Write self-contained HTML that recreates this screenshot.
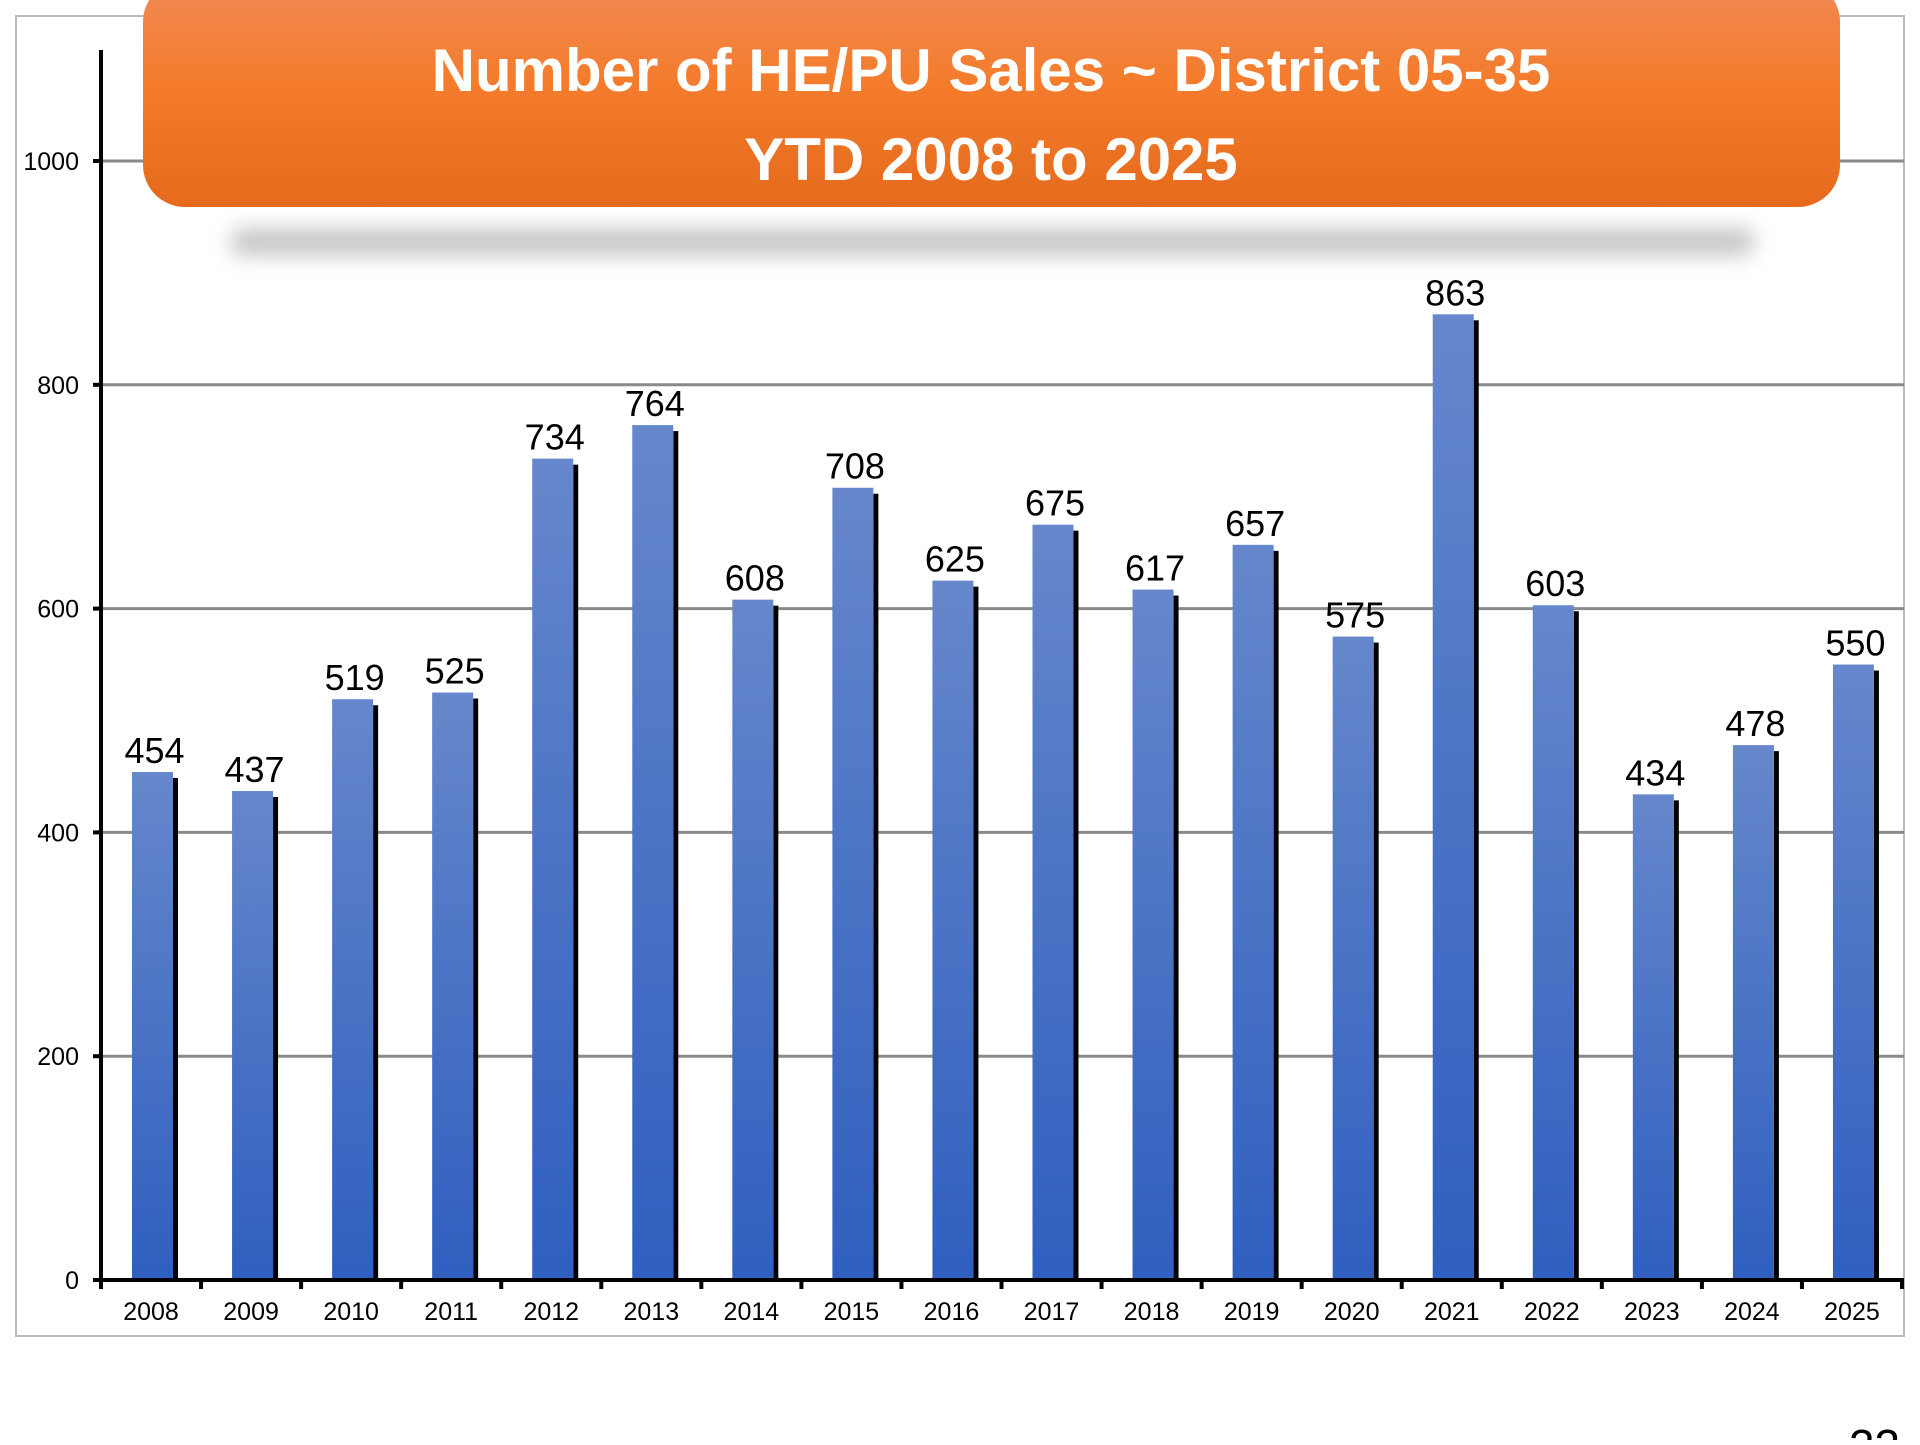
<!DOCTYPE html>
<html><head><meta charset="utf-8"><style>
body{margin:0;background:#fff;width:1920px;height:1440px;overflow:hidden;font-family:"Liberation Sans",sans-serif}
</style></head><body>
<svg width="1920" height="1440" xmlns="http://www.w3.org/2000/svg">
<defs>
<linearGradient id="barg" x1="0" y1="0" x2="0" y2="1"><stop offset="0" stop-color="#6687cb"/><stop offset="1" stop-color="#2f5fbf"/></linearGradient>
<linearGradient id="titg" x1="0" y1="0" x2="0" y2="1"><stop offset="0" stop-color="#ef8a55"/><stop offset="0.45" stop-color="#f47c2c"/><stop offset="1" stop-color="#e56a1c"/></linearGradient>
<filter id="blur" x="-10%" y="-200%" width="120%" height="500%"><feGaussianBlur stdDeviation="10"/></filter>
</defs>
<rect x="16" y="16" width="1888" height="1320" fill="#fff" stroke="#bbb" stroke-width="2"/>
<g id="grid"></g>
<g id="bars"></g>
<line x1="101" y1="50" x2="101" y2="1280" stroke="#000" stroke-width="4"/>
<line x1="94" y1="1280" x2="1904" y2="1280" stroke="#000" stroke-width="4"/>
<g id="xt"></g>
<rect x="230" y="228" width="1525" height="28" rx="14" fill="#999" opacity="0.55" filter="url(#blur)"/>
<rect x="143" y="-20" width="1697" height="227" rx="42" fill="url(#titg)"/>
<text x="991" y="91" text-anchor="middle" font-size="60" font-weight="bold" fill="#fff">Number of HE/PU Sales ~ District 05-35</text>
<text x="991" y="180" text-anchor="middle" font-size="60" font-weight="bold" fill="#fff">YTD 2008 to 2025</text>
<text x="1900" y="1462" text-anchor="end" font-size="46" fill="#000">22</text>
</svg>
<script>
const categories=["2008","2009","2010","2011","2012","2013","2014","2015","2016","2017","2018","2019","2020","2021","2022","2023","2024","2025"];
const values=[454,437,519,525,734,764,608,708,625,675,617,657,575,863,603,434,478,550];
const yTicks=[0,200,400,600,800,1000];
const NS="http://www.w3.org/2000/svg";
const x0=101,x1=1902,yBase=1280,yTop1000=161;
const band=(x1-x0)/categories.length;
function xPos(i){return x0+band*i;}
function yPos(v){return yBase-(yBase-yTop1000)*v/1000;}
function mk(t,a,p){const e=document.createElementNS(NS,t);for(const k in a)e.setAttribute(k,a[k]);p.appendChild(e);return e;}
const grid=document.getElementById('grid'),bars=document.getElementById('bars'),xt=document.getElementById('xt');
yTicks.forEach(v=>{
  const y=yPos(v);
  if(v>0){const l=mk('line',{x1:x0,y1:y,x2:1904,y2:y,stroke:'#8a8a8a','stroke-width':3},grid);
  
  }
  const tk=mk('line',{x1:93,y1:y,x2:x0,y2:y,stroke:'#000','stroke-width':4},grid);
  
  
  const t=mk('text',{x:79,y:y+9,'text-anchor':'end','font-size':25,fill:'#000'},grid);
  t.textContent=v;
  
  
});
categories.forEach((c,i)=>{
  const bx=xPos(i)+31,bw=41,y=yPos(values[i]);
  const sh=mk('rect',{x:bx+bw,y:y+6,width:5,height:yBase-y-6,fill:'#000'},bars);
  
  
  const r=mk('rect',{x:bx,y:y,width:bw,height:yBase-y,fill:'url(#barg)'},bars);
  
  
  const lb=mk('text',{x:bx+bw/2+2,y:y-9,'text-anchor':'middle','font-size':36,fill:'#000'},bars);
  lb.textContent=values[i];
  
  
  const tk=mk('line',{x1:xPos(i),y1:yBase,x2:xPos(i),y2:yBase+9,stroke:'#000','stroke-width':4},xt);
  
  
  const t=mk('text',{x:xPos(i)+band/2,y:1320,'text-anchor':'middle','font-size':25,fill:'#000'},xt);
  t.textContent=c;
  
  
});
const lt=mk('line',{x1:x1,y1:yBase,x2:x1,y2:yBase+9,stroke:'#000','stroke-width':4},xt);


</script>
</body></html>
